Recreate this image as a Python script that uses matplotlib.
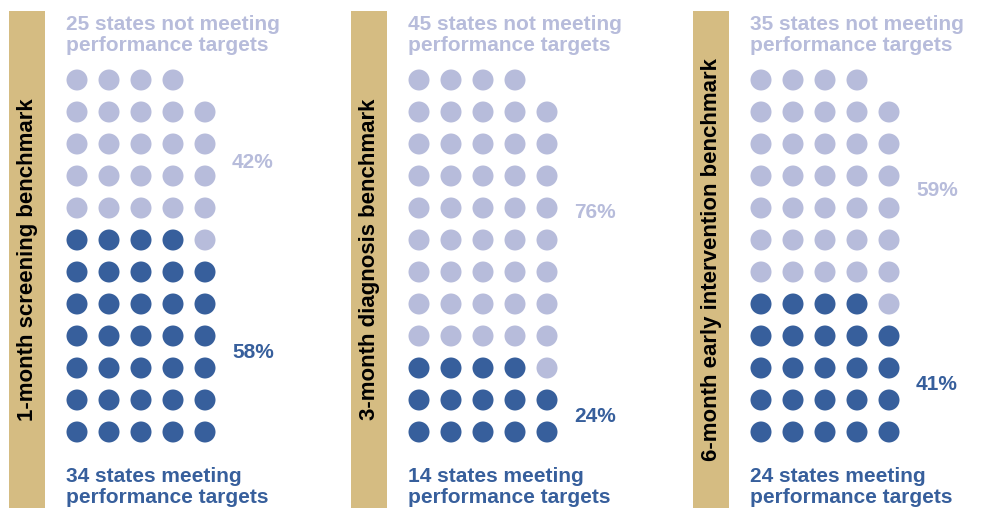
import matplotlib
matplotlib.use("Agg")
import matplotlib.pyplot as plt
from matplotlib.patches import Rectangle

# ---- data ----
benchmarks = ["1-month screening benchmark",
              "3-month diagnosis benchmark",
              "6-month early intervention benchmark"]
meeting = [34, 14, 24]
not_meeting = [25, 45, 35]
pct_meeting = ["58%", "24%", "41%"]
pct_not_meeting = ["42%", "76%", "59%"]

# ---- style / layout ----
DARK = "#375F9C"
LIGHT = "#B7BCDB"
TAN = "#D5BC82"
FONT = ["Liberation Sans", "DejaVu Sans"]
W, H = 985, 508
PANEL_DX = 342
BAR_X0, BAR_W, BAR_TOP = 9, 35.5, 11
COL0, STEP, ROW_BOTTOM, NCOLS = 77, 32, 432, 5
light_label_y = [163, 213, 190]

fig = plt.figure(figsize=(W / 100, H / 100), dpi=100)
ax = fig.add_axes([0, 0, 1, 1])
ax.set_xlim(0, W)
ax.set_ylim(H, 0)
ax.axis("off")

dot_size = (21 * 72 / 100) ** 2

for i, name in enumerate(benchmarks):
    ox = PANEL_DX * i
    # tan side bar with rotated label
    ax.add_patch(Rectangle((BAR_X0 + ox, BAR_TOP), BAR_W, H - BAR_TOP,
                           facecolor=TAN, edgecolor="none"))
    ax.text(BAR_X0 + ox + BAR_W / 2 + 1, (BAR_TOP + H) / 2, name, rotation=90,
            ha="center", va="center", fontsize=16, fontweight="bold",
            color="black", family=FONT)

    total = meeting[i] + not_meeting[i]
    xs, ys, cs = [], [], []
    for k in range(total):
        rb, c = divmod(k, NCOLS)
        xs.append(COL0 + ox + c * STEP)
        ys.append(ROW_BOTTOM - rb * STEP)
        cs.append(DARK if k < meeting[i] else LIGHT)
    ax.scatter(xs, ys, s=dot_size, c=cs, edgecolors="none", zorder=3)

    left = COL0 + ox - 10.5
    ax.text(left, 51, f"{not_meeting[i]} states not meeting\nperformance targets",
            ha="left", va="baseline", fontsize=15, fontweight="bold",
            color=LIGHT, family=FONT, linespacing=1.1)
    ax.text(left, 503, f"{meeting[i]} states meeting\nperformance targets",
            ha="left", va="baseline", fontsize=15, fontweight="bold",
            color=DARK, family=FONT, linespacing=1.1)

    lx = COL0 + ox + (NCOLS - 1) * STEP + 27
    full_dark_rows = meeting[i] // NCOLS
    dark_y = ROW_BOTTOM - STEP * (full_dark_rows - 1) / 2
    ax.text(lx, dark_y, pct_meeting[i], ha="left", va="center",
            fontsize=15, fontweight="bold", color=DARK, family=FONT)
    ax.text(lx, light_label_y[i], pct_not_meeting[i], ha="left", va="center",
            fontsize=15, fontweight="bold", color=LIGHT, family=FONT)

fig.savefig("out.png", dpi=100)
